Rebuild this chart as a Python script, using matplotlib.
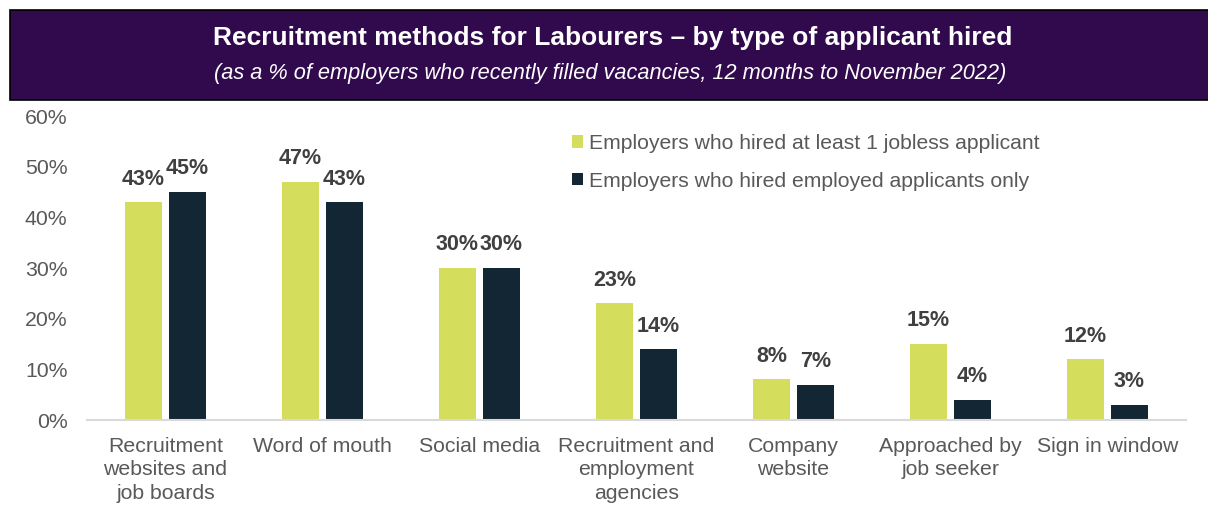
import matplotlib
matplotlib.use("Agg")
import matplotlib.pyplot as plt
from matplotlib.patches import Rectangle
import numpy as np

plt.rcParams['font.family'] = ['Liberation Sans', 'DejaVu Sans']

categories = ["Recruitment\nwebsites and\njob boards", "Word of mouth", "Social media",
              "Recruitment and\nemployment\nagencies", "Company\nwebsite",
              "Approached by\njob seeker", "Sign in window"]
jobless = [43, 47, 30, 23, 8, 15, 12]
employed_only = [45, 43, 30, 14, 7, 4, 3]
series_names = ["Employers who hired at least 1 jobless applicant",
                "Employers who hired employed applicants only"]
yticks = [0, 10, 20, 30, 40, 50, 60]

green = "#D4DE5C"
navy = "#132633"
grey = "#595959"

fig = plt.figure(figsize=(12.08, 5.05), dpi=100)

# title banner
banner = Rectangle((10 / 1208, 1 - 100 / 505), 1.0, 90 / 505, transform=fig.transFigure,
                   facecolor="#300A4D", edgecolor="black", linewidth=1.2)
fig.patches.append(banner)
fig.text(0.507, 1 - 38 / 505, "Recruitment methods for Labourers \u2013 by type of applicant hired",
         ha="center", va="center", color="white", fontsize=19, fontweight="bold")
fig.text(0.505, 1 - 74 / 505, "(as a % of employers who recently filled vacancies, 12 months to November 2022)",
         ha="center", va="center", color="white", fontsize=15.7, style="italic")

ax = fig.add_axes([87 / 1208, 1 - 420 / 505, (1186 - 87) / 1208, 304 / 505])
x = np.arange(len(categories))
w = 0.23
b1 = ax.bar(x - 0.14, jobless, w, color=green, label=series_names[0])
b2 = ax.bar(x + 0.14, employed_only, w, color=navy, label=series_names[1])

for bars, vals in [(b1, jobless), (b2, employed_only)]:
    for r, v in zip(bars, vals):
        ax.annotate(f"{v}%", (r.get_x() + r.get_width() / 2, v), xytext=(0, 9),
                    textcoords="offset points", ha="center", va="bottom",
                    fontsize=15.5, fontweight="bold", color="#404040")

ax.set_xlim(-0.5, len(categories) - 0.5)
ax.set_ylim(0, 60)
ax.set_yticks(yticks)
ax.set_yticklabels([f"{t}%" for t in yticks])
ax.set_xticks(x)
ax.set_xticklabels(categories, linespacing=1.32)
ax.tick_params(axis="both", length=0, labelsize=15.3, colors=grey)
ax.tick_params(axis="y", pad=14)
ax.tick_params(axis="x", pad=12)
for s in ["top", "right", "left"]:
    ax.spines[s].set_visible(False)
ax.spines["bottom"].set_color("#D9D9D9")
ax.spines["bottom"].set_linewidth(1.5)

ax.legend(loc="upper left", bbox_to_anchor=(572 / 1208, 1 - 134 / 505),
          bbox_transform=fig.transFigure, frameon=False, fontsize=15.2,
          labelcolor=grey, handlelength=0.5, handleheight=0.5, handletextpad=0.3,
          labelspacing=0.88, borderpad=0, borderaxespad=0)

fig.savefig("out.png", dpi=100)
